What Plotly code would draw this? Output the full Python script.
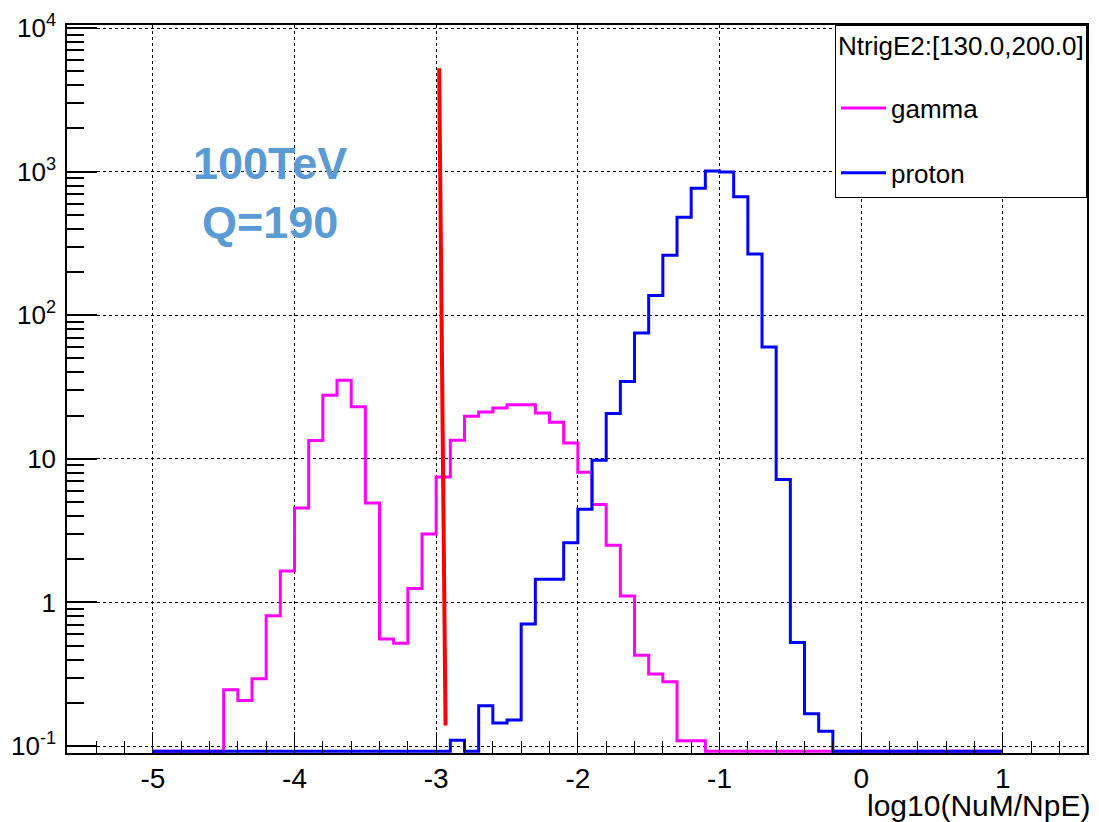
import numpy as np
import plotly.graph_objects as go

# 60 bins of width 0.1 spanning log10(NuM/NpE) from -5 to 1
bin_lo, bin_hi, bin_w = -5.0, 1.0, 0.1
edges = np.round(np.arange(bin_lo, bin_hi + bin_w / 2, bin_w), 1)

gamma_counts = [
    0, 0, 0, 0, 0, 0.247, 0.208, 0.294, 0.809, 1.66,
    4.55, 13.4, 27.7, 35.3, 23.1, 4.93, 0.557, 0.520, 1.25, 3.0,
    7.47, 13.5, 19.8, 21.2, 22.6, 23.8, 23.8, 20.9, 18.0, 12.9,
    8.07, 4.82, 2.50, 1.11, 0.43, 0.318, 0.281, 0.109, 0.109, 0,
    0, 0, 0, 0, 0, 0, 0, 0, 0, 0,
    0, 0, 0, 0, 0, 0, 0, 0, 0, 0,
]

proton_counts = [
    0, 0, 0, 0, 0, 0, 0, 0, 0, 0,
    0, 0, 0, 0, 0, 0, 0, 0, 0, 0,
    0, 0.11, 0, 0.191, 0.145, 0.152, 0.708, 1.45, 1.45, 2.61,
    4.45, 9.8, 20.7, 34.6, 75.1, 137, 262, 481, 766, 1012,
    995, 668, 267, 60.1, 7.19, 0.527, 0.168, 0.127, 0, 0,
    0, 0, 0, 0, 0, 0, 0, 0, 0, 0,
]

# Cut line (x, y) endpoints
cut_x = [-2.979, -2.934]
cut_y = [5240, 0.139]

series_names = ["gamma", "proton"]
series_colors = ["#FF00FF", "#0000FF"]
legend_header = "NtrigE2:[130.0,200.0]"
x_title = "log10(NuM/NpE)"
note_text = "<b>100TeV<br>Q=190</b>"

x_ticks = [-5, -4, -3, -2, -1, 0, 1]
x_ticktext = ["-5", "-4", "-3", "-2", "-1", "0", "1"]
y_ticks = [0.1, 1, 10, 100, 1000, 10000]
y_ticktext = ["10<sup>-1</sup>", "1", "10", "10<sup>2</sup>", "10<sup>3</sup>", "10<sup>4</sup>"]

# axis ranges (log10 for y)
x_range = [-5.606, 1.594]
y_range = [-1.048, 4.021]
# empty bins sit on the bottom of the log frame
y_floor = 10 ** -1.035

FONT = "Liberation Sans, Arial, Helvetica, sans-serif"


def step_xy(counts):
    vals = [max(v, y_floor) for v in counts]
    return list(edges), vals + [vals[-1]]


fig = go.Figure()
for name, color, counts in zip(series_names, series_colors, [gamma_counts, proton_counts]):
    sx, sy = step_xy(counts)
    fig.add_trace(go.Scatter(
        x=sx, y=sy, mode="lines", name=name, legendgroup=name,
        line=dict(color=color, width=3, shape="hv"),
    ))

fig.add_trace(go.Scatter(
    x=cut_x, y=cut_y, mode="lines", showlegend=False,
    line=dict(color="#FF0000", width=4),
))

x_minor = [round(-5.6 + 0.2 * k, 1) for k in range(37)]
x_minor = [v for v in x_minor if abs(v - round(v)) > 1e-6 and x_range[0] <= v <= x_range[1]]
y_minor = [m * 10.0 ** d for d in range(-1, 4) for m in range(2, 10)]

fig.update_layout(
    width=1099, height=822,
    margin=dict(l=67, r=10, t=22, b=69),
    paper_bgcolor="white", plot_bgcolor="white",
    font=dict(family=FONT, size=26, color="black"),
    showlegend=True,
    legend=dict(
        x=1, xanchor="right", y=1, yanchor="top",
        bgcolor="white", bordercolor="black", borderwidth=1,
        font=dict(family=FONT, size=26, color="black"),
        title=dict(text='<span style="font-size:26px">' + legend_header + "</span><br> ",
                   font=dict(family=FONT, size=22.5, color="black")),
        tracegroupgap=28, itemwidth=45,
    ),
    xaxis=dict(
        range=x_range, tickmode="array", tickvals=x_ticks, ticktext=x_ticktext,
        ticks="inside", ticklen=21, tickwidth=1.2, tickcolor="black",
        showline=True, linecolor="black", linewidth=1.5, mirror=True,
        showgrid=True, gridcolor="black", griddash="dot", gridwidth=1,
        zeroline=False, tickfont=dict(family=FONT, size=28, color="black"),
        ticklabelstandoff=0,
        minor=dict(tickmode="array", tickvals=x_minor, ticks="inside", ticklen=12,
                   tickwidth=1.2, tickcolor="black", showgrid=False),
    ),
    yaxis=dict(
        type="log", range=y_range, tickmode="array", tickvals=y_ticks, ticktext=y_ticktext,
        ticks="inside", ticklen=30, tickwidth=1.5, tickcolor="black",
        showline=True, linecolor="black", linewidth=1.5, mirror=True,
        showgrid=True, gridcolor="black", griddash="dot", gridwidth=1,
        zeroline=False, tickfont=dict(family=FONT, size=26, color="black"),
        ticklabelstandoff=4,
        minor=dict(tickmode="array", tickvals=y_minor, ticks="inside", ticklen=17,
                   tickwidth=1.5, tickcolor="black", showgrid=False),
    ),
)

fig.add_annotation(
    text=x_title, xref="paper", yref="paper", x=1, y=0,
    xanchor="right", yanchor="middle", xshift=5, yshift=-52,
    showarrow=False, font=dict(family=FONT, size=30, color="black"),
)

fig.add_annotation(
    text=note_text, xref="paper", yref="paper", x=0.1986, y=0.7687,
    xanchor="center", yanchor="middle", align="center", showarrow=False,
    font=dict(family=FONT, size=45, color="#5B9BD5"),
)

fig.write_html("out.html")
